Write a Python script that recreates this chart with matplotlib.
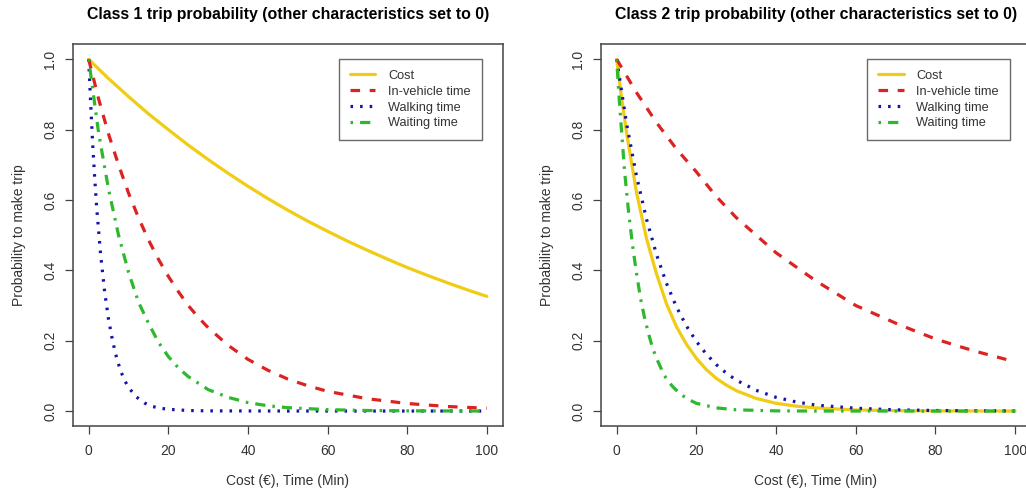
import matplotlib
matplotlib.use("Agg")
import matplotlib.pyplot as plt

plt.rcParams['font.family'] = ['Liberation Sans', 'DejaVu Sans']

# ---- data ----
# Class 1
c1_cost_x = [0, 5, 10, 15, 20, 25, 30, 35, 40, 45, 50, 55, 60, 65, 70, 75, 80, 85, 90, 95, 100]
c1_cost_y = [1.0, 0.945, 0.894, 0.845, 0.80, 0.756, 0.715, 0.676, 0.639, 0.604, 0.571,
             0.54, 0.511, 0.483, 0.457, 0.432, 0.408, 0.386, 0.365, 0.345, 0.326]
c1_inveh_x = [0, 2.5, 5, 7.5, 10, 12.5, 15, 17.5, 20, 22.5, 25, 27.5, 30, 35, 40, 45, 50,
              55, 60, 70, 80, 90, 100]
c1_inveh_y = [1.0, 0.887, 0.787, 0.70, 0.62, 0.55, 0.487, 0.432, 0.383, 0.34, 0.30, 0.267,
              0.237, 0.187, 0.147, 0.116, 0.091, 0.072, 0.056, 0.035, 0.0215, 0.013, 0.008]
c1_walk_x = [0, 0.5, 1, 1.5, 2, 3, 4, 5, 6, 7, 8, 9, 10, 12, 14, 16, 18, 20, 25, 30, 50, 100]
c1_walk_y = [1.0, 0.875, 0.76, 0.665, 0.58, 0.445, 0.34, 0.26, 0.20, 0.152, 0.115, 0.088,
             0.067, 0.04, 0.023, 0.013, 0.008, 0.005, 0.0015, 0.0005, 0.0, 0.0]
c1_wait_x = [0, 2.5, 5, 7.5, 10, 12.5, 15, 17.5, 20, 22.5, 25, 30, 35, 40, 45, 50, 60, 70,
             80, 100]
c1_wait_y = [1.0, 0.79, 0.63, 0.50, 0.395, 0.31, 0.25, 0.196, 0.155, 0.123, 0.098, 0.061,
             0.039, 0.024, 0.015, 0.0096, 0.004, 0.0015, 0.0006, 0.0]

# Class 2
c2_cost_x = [0, 1, 2.5, 5, 7.5, 10, 12.5, 15, 17.5, 20, 22.5, 25, 27.5, 30, 35, 40, 45, 50,
             60, 70, 80, 100]
c2_cost_y = [1.0, 0.91, 0.79, 0.62, 0.49, 0.39, 0.305, 0.24, 0.19, 0.15, 0.118, 0.093,
             0.074, 0.058, 0.036, 0.022, 0.014, 0.009, 0.003, 0.0012, 0.0005, 0.0]
c2_inveh_x = [0, 5, 10, 15, 20, 25, 30, 35, 40, 45, 50, 55, 60, 65, 70, 75, 80, 85, 90, 95, 100]
c2_inveh_y = [1.0, 0.905, 0.82, 0.745, 0.68, 0.61, 0.55, 0.50, 0.45, 0.41, 0.37, 0.335,
              0.30, 0.275, 0.25, 0.227, 0.205, 0.187, 0.17, 0.155, 0.14]
c2_walk_x = [0, 2.5, 5, 7.5, 10, 12.5, 15, 17.5, 20, 22.5, 25, 27.5, 30, 35, 40, 45, 50,
             60, 70, 80, 100]
c2_walk_y = [1.0, 0.816, 0.667, 0.545, 0.445, 0.363, 0.296, 0.242, 0.198, 0.162, 0.132,
             0.108, 0.088, 0.059, 0.039, 0.026, 0.017, 0.008, 0.0035, 0.0015, 0.0003]
c2_wait_x = [0, 0.5, 1, 2, 3, 4, 5, 6, 7, 8, 9, 10, 12, 14, 16, 18, 20, 25, 30, 40, 50, 100]
c2_wait_y = [1.0, 0.91, 0.83, 0.68, 0.565, 0.47, 0.39, 0.32, 0.265, 0.22, 0.18, 0.15,
             0.10, 0.07, 0.048, 0.033, 0.022, 0.009, 0.0035, 0.0005, 0.0, 0.0]

labels = ['Cost', 'In-vehicle time', 'Walking time', 'Waiting time']
titles = ['Class 1 trip probability (other characteristics set to 0)',
          'Class 2 trip probability (other characteristics set to 0)']
xticks = [0, 20, 40, 60, 80, 100]
yticks = [0.0, 0.2, 0.4, 0.6, 0.8, 1.0]

colors = ['#F0CC14', '#DD2222', '#1414AA', '#2DB82D']
styles = ['-', (0, (3, 3)), (0, (0.8, 2.2)), (0, (0.8, 2.2, 3.2, 2.2))]

panels = [
    [(c1_cost_x, c1_cost_y), (c1_inveh_x, c1_inveh_y),
     (c1_walk_x, c1_walk_y), (c1_wait_x, c1_wait_y)],
    [(c2_cost_x, c2_cost_y), (c2_inveh_x, c2_inveh_y),
     (c2_walk_x, c2_walk_y), (c2_wait_x, c2_wait_y)],
]

fig = plt.figure(figsize=(10.26, 4.95), dpi=100)
ax_rects = [[0.0709, 0.1394, 0.4191, 0.7711],
            [0.5855, 0.1394, 0.4194, 0.7711]]

for rect, series, title in zip(ax_rects, panels, titles):
    ax = fig.add_axes(rect)
    for (x, y), c, ls, lab in zip(series, colors, styles, labels):
        ax.plot(x, y, color=c, linestyle=ls, lw=2.3, label=lab,
                dash_capstyle='butt', solid_capstyle='round')
    ax.set_xlim(-4, 104)
    ax.set_ylim(-0.0425, 1.0425)
    ax.set_xticks(xticks)
    ax.set_xticklabels([str(t) for t in xticks])
    ax.set_yticks(yticks)
    ax.set_yticklabels(['%.1f' % t for t in yticks], rotation=90, va='center')
    ax.tick_params(axis='both', direction='out', length=6, width=0.9,
                   color='#444444', labelcolor='#333333', labelsize=10)
    ax.tick_params(axis='x', pad=7)
    ax.tick_params(axis='y', pad=5)
    for s in ax.spines.values():
        s.set_color('#444444')
        s.set_linewidth(1.1)
    ax.set_title(title, fontsize=11.4, fontweight='bold', pad=18)
    ax.set_xlabel('Cost (€), Time (Min)', fontsize=10, color='#333333', va='center')
    ax.xaxis.set_label_coords(0.5, -0.144)
    ax.set_ylabel('Probability to make trip', fontsize=10, color='#333333', va='center')
    ax.yaxis.set_label_coords(-0.126, 0.5)
    leg = ax.legend(loc='upper right', bbox_to_anchor=(0.951, 0.9615),
                    borderaxespad=0, fontsize=9.2, frameon=True, fancybox=False,
                    handlelength=2.0, handletextpad=1.0, labelspacing=0.3,
                    borderpad=0.85)
    leg.get_frame().set_edgecolor('#444444')
    leg.get_frame().set_linewidth(1.0)
    for t in leg.get_texts():
        t.set_color('#333333')

fig.savefig('out.png', dpi=100)
